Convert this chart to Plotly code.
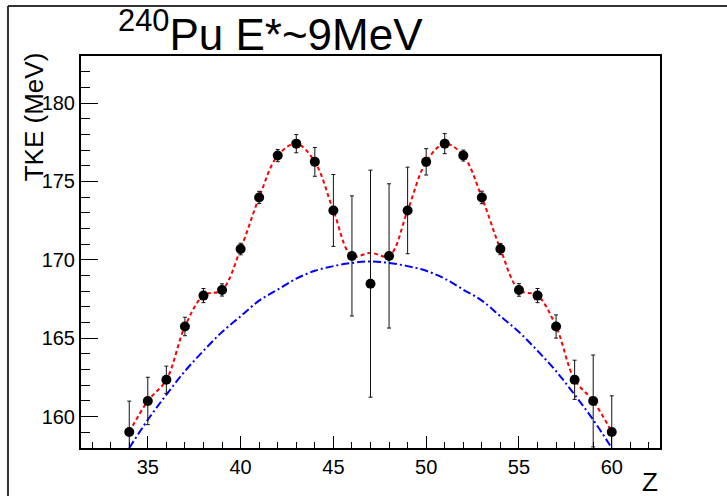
import plotly.graph_objects as go

# Fragment charge and measured total kinetic energy
z_values = list(range(34, 61))
tke_mev = [159.02, 161.00, 162.35, 165.75, 167.72, 168.08, 170.69, 173.98, 176.65,
           177.41, 176.25, 173.15, 170.25, 168.48, 170.25, 173.15, 176.25, 177.41,
           176.65, 173.98, 170.69, 168.08, 167.72, 165.75, 162.35, 161.00, 159.02]
tke_err = [1.97, 1.51, 0.87, 0.59, 0.45, 0.39, 0.37, 0.39, 0.39, 0.58, 0.92, 2.29,
           3.83, 7.24, 4.60, 2.76, 0.84, 0.64, 0.35, 0.40, 0.36, 0.40, 0.45, 0.74,
           1.25, 2.93, 2.31]

# Smooth description of the data (red) and liquid-drop-like baseline (blue)
fit_tke = [159.02, 161.00, 162.35, 165.75, 167.72, 168.08, 170.69, 173.98, 176.65,
           177.41, 176.25, 173.15, 170.25, 170.45, 170.25, 173.15, 176.25, 177.41,
           176.65, 173.98, 170.69, 168.08, 167.72, 165.75, 162.35, 161.00, 159.02]
base_tke = [158.0, 159.8, 161.4, 162.9, 164.2, 165.4, 166.4, 167.4, 168.1, 168.8,
            169.3, 169.6, 169.8, 169.9, 169.8, 169.6, 169.3, 168.8, 168.1, 167.4,
            166.4, 165.4, 164.2, 162.9, 161.4, 159.8, 158.0]

FONT = "Liberation Sans, Arial, Helvetica, sans-serif"

fig = go.Figure()

fig.add_trace(go.Scatter(
    x=z_values, y=base_tke, mode="lines",
    line=dict(color="#0000ff", width=2, dash="8px,3px,2px,3px", shape="spline"),
    hoverinfo="skip", showlegend=False,
))
fig.add_trace(go.Scatter(
    x=z_values, y=fit_tke, mode="lines",
    line=dict(color="#ff0000", width=2, dash="4px,3px", shape="spline"),
    hoverinfo="skip", showlegend=False,
))
fig.add_trace(go.Scatter(
    x=z_values, y=tke_mev, mode="markers",
    marker=dict(color="black", size=10, symbol="circle"),
    error_y=dict(type="data", array=tke_err, visible=True,
                 color="#111111", thickness=1, width=2),
    showlegend=False,
))

axis_common = dict(
    showline=True, linewidth=2, linecolor="black", mirror=True,
    ticks="inside", tickcolor="black", tickwidth=1,
    showgrid=False, zeroline=False,
    tickfont=dict(family=FONT, size=20, color="black"),
)

fig.update_xaxes(range=[31.4, 62.6], dtick=5, tick0=0, ticklen=12,
                 minor=dict(dtick=1, ticklen=6, ticks="inside", tickcolor="black", showgrid=False),
                 **axis_common)
fig.update_yaxes(range=[158, 183], dtick=5, tick0=0, ticklen=17,
                 minor=dict(dtick=1, ticklen=9, ticks="inside", tickcolor="black", showgrid=False),
                 **axis_common)

fig.update_layout(
    width=727, height=496,
    margin=dict(l=81, r=67, t=56, b=48),
    paper_bgcolor="white", plot_bgcolor="white",
    font=dict(family=FONT, color="black"),
    title=dict(text="<sup>240</sup>Pu E*~9MeV", font=dict(family=FONT, size=44, color="black"),
               xref="container", x=118 / 727, xanchor="left",
               yref="container", y=1 - 19 / 496, yanchor="top"),
    annotations=[
        dict(text="TKE (MeV)", textangle=-90, showarrow=False,
             xref="paper", x=-0.082, xanchor="center",
             yref="paper", y=0.845, yanchor="middle",
             font=dict(family=FONT, size=26, color="black")),
        dict(text="Z", showarrow=False,
             xref="paper", x=1.0, xanchor="right",
             yref="paper", y=-0.088, yanchor="middle",
             font=dict(family=FONT, size=26, color="black")),
    ],
    shapes=[
        # canvas outline (top and left edges)
        dict(type="line", xref="paper", yref="paper",
             x0=-0.1261, x1=1.2, y0=1.1276, y1=1.1276,
             line=dict(color="#333333", width=2)),
        dict(type="line", xref="paper", yref="paper",
             x0=-0.1261, x1=-0.1261, y0=1.1276, y1=-0.2,
             line=dict(color="#333333", width=2)),
    ],
)

fig.write_html("out.html")
